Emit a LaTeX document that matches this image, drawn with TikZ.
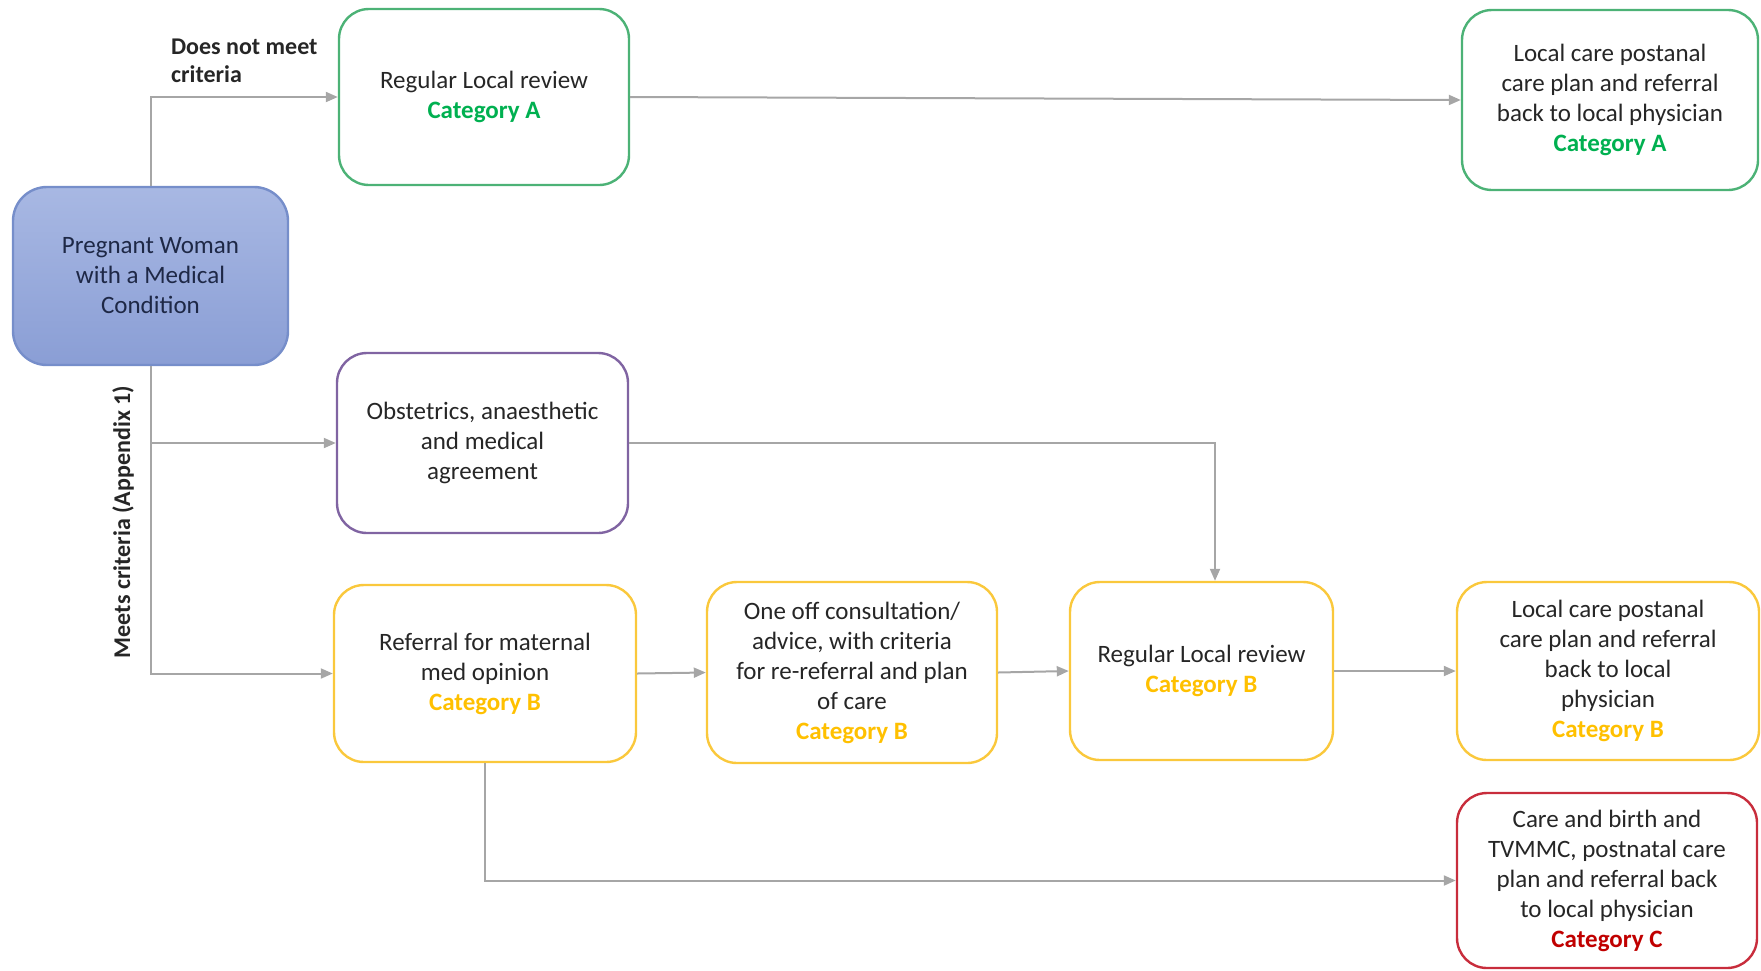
\documentclass[tikz,border=0pt]{standalone}
\usepackage{fontspec}
\setmainfont{Carlito}
\usetikzlibrary{arrows.meta}

\definecolor{lineGray}{RGB}{166,166,166}
\definecolor{textGray}{RGB}{38,38,38}
\definecolor{boxGreen}{RGB}{76,178,118}
\definecolor{catGreen}{RGB}{0,176,80}
\definecolor{boxPurple}{RGB}{128,100,162}
\definecolor{boxYellow}{RGB}{250,200,60}
\definecolor{catYellow}{RGB}{255,192,0}
\definecolor{boxRed}{RGB}{200,45,60}
\definecolor{catRed}{RGB}{192,0,0}
\definecolor{startTop}{RGB}{168,184,227}
\definecolor{startBot}{RGB}{138,158,213}
\definecolor{startLine}{RGB}{118,142,202}
\definecolor{startText}{RGB}{30,40,70}

\begin{document}
\begin{tikzpicture}
        [x = 0.5pt, y = -0.5pt, >= {Triangle[length=6pt, width=5pt]},
         box/.style = {draw, rounded corners = 15pt, line width = 1.2pt, align = center,
                       text = textGray, inner sep = 2pt, font = \fontsize{12.5}{15}\selectfont},
         link/.style = {draw = lineGray, line width = 1pt},
         lbl/.style = {text = textGray, align = left, font = \bfseries\fontsize{12}{14}\selectfont}]
        \useasboundingbox (0,0) rectangle (1761,970);
        % start
        \node[box, draw = startLine, top color = startTop, bottom color = startBot, text = startText,
              rounded corners = 17pt, minimum width = 137.5pt, minimum height = 89pt]
              (start) at (150.5,276) {Pregnant Woman\\with a Medical\\Condition};
        % category A
        \node[box, draw = boxGreen, minimum width = 145pt, minimum height = 88pt]
              (revA) at (484,97) {Regular Local review\\{\bfseries\color{catGreen}Category A}};
        \node[box, draw = boxGreen, minimum width = 148pt, minimum height = 90pt]
              (locA) at (1610,100) {Local care postanal\\care plan and referral\\back to local physician\\{\bfseries\color{catGreen}Category A}};
        \node[box, draw = boxPurple, minimum width = 145.5pt, minimum height = 90pt]
              (obst) at (482.5,443) {Obstetrics, anaesthetic\\and medical\\agreement};
        % category B
        \node[box, draw = boxYellow, minimum width = 151pt, minimum height = 88.5pt]
              (refer) at (485,673.5) {Referral for maternal\\med opinion\\{\bfseries\color{catYellow}Category B}};
        \node[box, draw = boxYellow, minimum width = 145pt, minimum height = 90.5pt]
              (oneoff) at (852,672.5) {One off consultation/\\advice, with criteria\\for re-referral and plan\\of care\\{\bfseries\color{catYellow}Category B}};
        \node[box, draw = boxYellow, minimum width = 131.5pt, minimum height = 89pt]
              (revB) at (1201.5,671) {Regular Local review\\{\bfseries\color{catYellow}Category B}};
        \node[box, draw = boxYellow, minimum width = 151pt, minimum height = 89pt]
              (locB) at (1608,671) {Local care postanal\\care plan and referral\\back to local\\physician\\{\bfseries\color{catYellow}Category B}};
        % category C
        \node[box, draw = boxRed, minimum width = 150pt, minimum height = 87.5pt]
              (catC) at (1607,880.5) {Care and birth and\\TVMMC, postnatal care\\plan and referral back\\to local physician\\{\bfseries\color{catRed}Category C}};
        % labels
        \node[lbl, anchor = west] (noMeet) at (164,61) {Does not meet\\criteria};
        \node[lbl, rotate = 90] (meets) at (123,522) {Meets criteria (Appendix 1)};
        % connectors
        \coordinate (turn) at (1215,443);
        \draw[link, ->] (start.north) |- (revA.west);
        \draw[link, ->] (revA.east) -- (locA.west);
        \draw[link, ->] (start.south) |- (obst.west);
        \draw[link, ->] (start.south) |- (refer.west);
        \draw[link, ->] (obst.east) -- (turn) -- (turn |- revB.north);
        \draw[link, ->] (refer.east) -- (oneoff.west);
        \draw[link, ->] (oneoff.east) -- (revB.west);
        \draw[link, ->] (revB.east) -- (locB.west);
        \draw[link, ->] (refer.south) |- (catC.west);
      \end{tikzpicture}
\end{document}
